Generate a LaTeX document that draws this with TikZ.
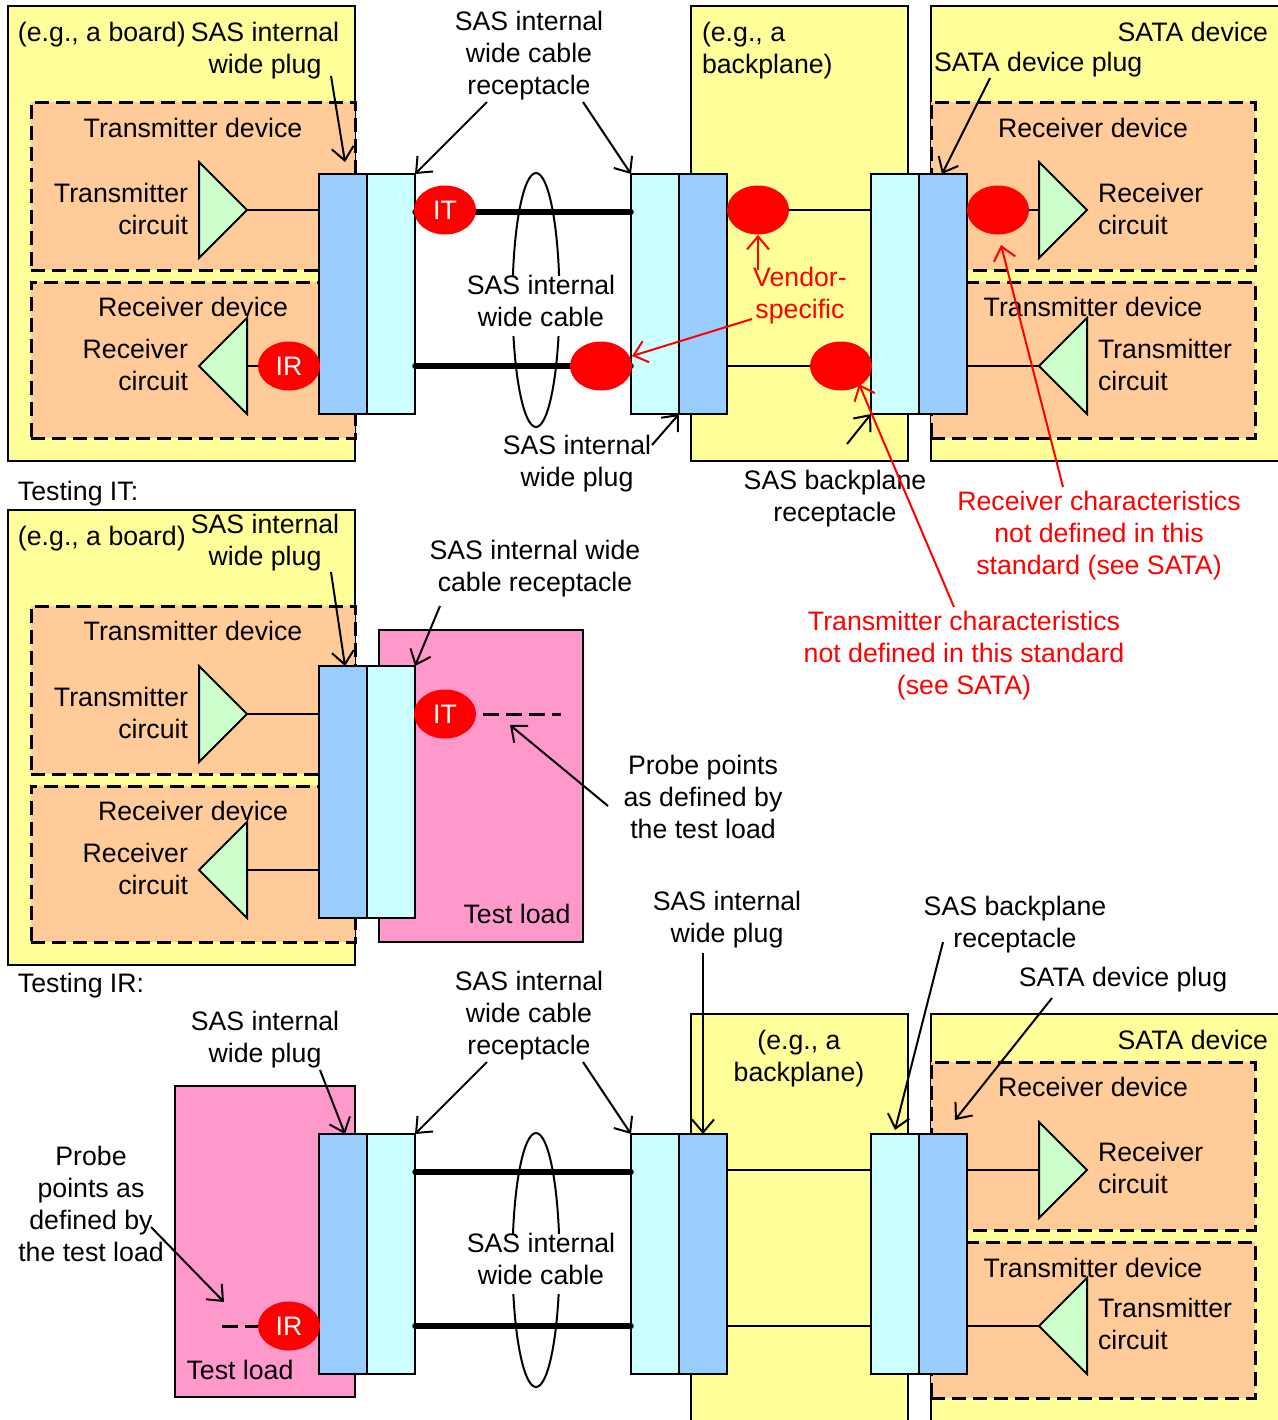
\documentclass[tikz,border=0pt]{standalone}
\usepackage{fontspec}
\setmainfont{Liberation Sans}
\usetikzlibrary{arrows.meta,fit,shapes.geometric}
\definecolor{cyel}{HTML}{FFFF99}
\definecolor{corg}{HTML}{FFCC99}
\definecolor{cblu}{HTML}{99CCFF}
\definecolor{ccya}{HTML}{CCFFFF}
\definecolor{cgrn}{HTML}{CCFFCC}
\definecolor{cpnk}{HTML}{FF99CC}
\tikzset{
  x=0.5pt,y=-0.5pt,
  panel/.style={inner sep=0pt,outer sep=0pt,line width=1pt,draw=black},
  yellowbox/.style={panel,fill=cyel},
  yellowfill/.style={panel,fill=cyel,draw=none},
  pinkbox/.style={panel,fill=cpnk},
  dashbox/.style={panel,fill=corg,line width=1.5pt,dash pattern=on 7pt off 3.5pt},
  plugbox/.style={panel,fill=cblu},
  recbox/.style={panel,fill=ccya},
  triangle/.style={draw=black,fill=cgrn,line width=1pt,line join=miter},
  wire/.style={draw=black,line width=1pt},
  cable/.style={draw=black,line width=2.75pt,line cap=round},
  probe/.style={draw=black,line width=1.5pt,dash pattern=on 8pt off 3.5pt},
  loope/.style={ellipse,draw=black,line width=1pt,minimum width=23.5pt,minimum height=127pt,inner sep=0pt},
  redspot/.style={ellipse,fill=red,text=white,minimum width=31pt,minimum height=24.5pt,inner sep=0pt,font=\fontsize{13.35}{16}\selectfont},
  txt/.style={font=\fontsize{13.35}{16}\selectfont,inner sep=0pt,outer sep=0pt,yshift=-1.5pt,
    execute at begin node=\strut,execute at end node=\strut},
  lbl/.style={txt,align=center},
  lblL/.style={txt,align=left,anchor=west},
  lblR/.style={txt,align=right,anchor=east},
  ml/.style={yshift=-1pt},
  whiteback/.style={fill=white},
  redtxt/.style={text=red},
  callout/.style={draw=black,line width=1pt,-{Straight Barb[length=6.5pt,width=11pt,line width=1pt]}},
  redcall/.style={callout,draw=red,-{Straight Barb[length=6.5pt,width=11pt,line width=1pt,color=red]}},
}
\newcommand{\bx}[6]{\node[#1,fit={(#3,#4)(#5,#6)}] (#2) {};}
\newcommand{\trig}[4]{\draw[triangle] (#1) -- (#2) -- (#3) -- cycle;}
\begin{document}
\begin{tikzpicture}
\useasboundingbox (0,0) rectangle (1278,1420);
% ---------- panel 1 ----------
\bx{yellowbox}{boardA}{8}{6}{355}{461}
\bx{yellowbox}{bpA}{691}{6}{908}{461}
\bx{yellowfill}{sataA}{931}{6}{1278}{461}
\draw[wire] (1278,6) -- (931,6) -- (931,461) -- (1278,461);
\bx{dashbox}{txA}{31}{102}{355}{270}
\bx{dashbox}{rxA}{31}{282}{355}{438}
\bx{dashbox}{srxA}{931}{102}{1255}{270}
\bx{dashbox}{stxA}{931}{282}{1255}{438}
% wires
\coordinate (a1) at (247,210);
\coordinate (a2) at (247,366);
\coordinate (a3) at (1039,210);
\coordinate (a4) at (1039,366);
\bx{plugbox}{pA}{319}{174}{367}{414}
\bx{recbox}{rA}{367}{174}{415}{414}
\bx{recbox}{rB}{631}{174}{679}{414}
\bx{plugbox}{pB}{679}{174}{727}{414}
\bx{recbox}{rC}{871}{174}{919}{414}
\bx{plugbox}{pC}{919}{174}{967}{414}
\draw[wire] (a1) -- (pA.west |- a1);
\draw[wire] (a2) -- (pA.west |- a2);
\draw[wire] (pB.east |- 0,210) -- (rC.west |- 0,210);
\draw[wire] (pB.east |- 0,366) -- (rC.west |- 0,366);
\draw[wire] (pC.east |- a3) -- (a3);
\draw[wire] (pC.east |- a4) -- (a4);
\draw[cable] (rA.east |- 0,212) -- (rB.west |- 0,212);
\draw[cable] (rA.east |- 0,366) -- (rB.west |- 0,366);
\trig{199,162}{247,210}{199,258}{}
\trig{247,318}{199,366}{247,414}{}
\trig{1039,162}{1087,210}{1039,258}{}
\trig{1087,318}{1039,366}{1087,414}{}
\node[loope] (loopA) at (536,300) {};
\node[redspot] (itA) at (445,210) {IT};
\node[redspot] (irA) at (289,366) {IR};
\node[redspot] (v1) at (758,210) {};
\node[redspot] (v2) at (998,210) {};
\node[redspot] (v3) at (601,366) {};
\node[redspot] (v4) at (841,366) {};
\node[lblL] (t1) at (18,32) {(e.g., a board)};
\node[lbl,ml] (t2) at (265,48) {SAS internal\\wide plug};
\node[lbl,ml] (t3) at (529,53) {SAS internal\\wide cable\\receptacle};
\node[lblL,ml] (t4) at (702,48) {(e.g., a\\backplane)};
\node[lblR] (t5) at (1268,32) {SATA device};
\node[lblL] (t6) at (934,62) {SATA device plug};
\node[lbl] (t7) at (193,128) {Transmitter device};
\node[lblR,ml] (t8) at (188,209) {Transmitter\\circuit};
\node[lbl] (t9) at (193,307) {Receiver device};
\node[lblR,ml] (t10) at (188,365) {Receiver\\circuit};
\node[lbl] (t11) at (1093,128) {Receiver device};
\node[lblL,ml] (t12) at (1098,209) {Receiver\\circuit};
\node[lbl] (t13) at (1093,307) {Transmitter device};
\node[lblL,ml] (t14) at (1098,365) {Transmitter\\circuit};
\node[lbl,redtxt,ml] (t15) at (800,293) {Vendor-\\specific};
\node[lbl,whiteback] (t16) at (541,303) {SAS internal\\wide cable};
\node[lbl,ml] (t17) at (577,461) {SAS internal\\wide plug};
\node[lbl,ml] (t18) at (835,496) {SAS backplane\\receptacle};
\node[lbl,redtxt,ml] (t19) at (1099,533) {Receiver characteristics\\not defined in this\\standard (see SATA)};
\node[lbl,redtxt,ml] (t20) at (964,653) {Transmitter characteristics\\not defined in this standard\\(see SATA)};
\coordinate (s1) at (331,76); \coordinate (e1) at (345,162);
\coordinate (s2) at (487,102);
\coordinate (s3) at (583,102);
\coordinate (s4) at (990,78); \coordinate (e4) at (942,174);
\coordinate (s5) at (758,270);
\coordinate (s6) at (752,319); \coordinate (e6) at (632,356);
\coordinate (s7) at (652,445);
\coordinate (s8) at (847,444);
\coordinate (s9) at (1063,487); \coordinate (e9) at (1001,245);
\coordinate (s10) at (954,607); \coordinate (e10) at (859,384);
\draw[callout] (s1) -- (e1);
\draw[callout] (s2) -- (rA.north east);
\draw[callout] (s3) -- (rB.north west);
\draw[callout] (s4) -- (e4);
\draw[redcall] (s5) -- (v1.south);
\draw[redcall] (s6) -- (e6);
\draw[callout] (s7) -- (pB.south west);
\draw[callout] (s8) -- (rC.south west);
\draw[redcall] (s9) -- (e9);
\draw[redcall] (s10) -- (e10);
% ---------- panel 2 ----------
\node[lblL] (t21) at (18,491) {Testing IT:};
\bx{yellowbox}{boardB}{8}{510}{355}{965}
\bx{dashbox}{txB}{31}{606}{355}{774}
\bx{dashbox}{rxB}{31}{786}{355}{942}
\bx{pinkbox}{loadB}{379}{630}{583}{942}
\bx{plugbox}{pD}{319}{666}{367}{918}
\bx{recbox}{rD}{367}{666}{415}{918}
\coordinate (b1) at (247,714);
\coordinate (b2) at (247,870);
\draw[wire] (b1) -- (pD.west |- b1);
\draw[wire] (b2) -- (pD.west |- b2);
\trig{199,666}{247,714}{199,762}{}
\trig{247,822}{199,870}{247,918}{}
\node[redspot] (itB) at (445,714) {IT};
\coordinate (pr1) at (561,714);
\draw[probe,dash phase=8pt] (itB.east) -- (pr1);
\node[lblL] (t22) at (18,536) {(e.g., a board)};
\node[lbl,ml] (t23) at (265,540) {SAS internal\\wide plug};
\node[lbl] (t24) at (193,631) {Transmitter device};
\node[lblR,ml] (t25) at (188,713) {Transmitter\\circuit};
\node[lbl] (t26) at (193,811) {Receiver device};
\node[lblR,ml] (t27) at (188,869) {Receiver\\circuit};
\node[lbl] (t28) at (517,914) {Test load};
\node[lbl,ml] (t29) at (535,566) {SAS internal wide\\cable receptacle};
\node[lbl,ml] (t30) at (703,797) {Probe points\\as defined by\\the test load};
\coordinate (s11) at (331,572); \coordinate (e11) at (345,666);
\coordinate (s12) at (440,606);
\coordinate (s13) at (608,806); \coordinate (e13) at (510,725);
\draw[callout] (s11) -- (e11);
\draw[callout] (s12) -- (rD.north east);
\draw[callout] (s13) -- (e13);
% ---------- panel 3 ----------
\node[lblL] (t31) at (18,983) {Testing IR:};
\bx{pinkbox}{loadC}{175}{1086}{355}{1397}
\bx{yellowfill}{bpC}{691}{1014}{908}{1420}
\draw[wire] (691,1420) -- (691,1014) -- (908,1014) -- (908,1420);
\bx{yellowfill}{sataC}{931}{1014}{1278}{1420}
\draw[wire] (1278,1014) -- (931,1014) -- (931,1420);
\bx{dashbox}{srxC}{931}{1062}{1255}{1230}
\bx{dashbox}{stxC}{931}{1242}{1255}{1398}
\bx{plugbox}{pE}{319}{1134}{367}{1374}
\bx{recbox}{rE}{367}{1134}{415}{1374}
\bx{recbox}{rF}{631}{1134}{679}{1374}
\bx{plugbox}{pF}{679}{1134}{727}{1374}
\bx{recbox}{rG}{871}{1134}{919}{1374}
\bx{plugbox}{pG}{919}{1134}{967}{1374}
\coordinate (c3) at (1039,1170);
\coordinate (c4) at (1039,1326);
\draw[wire] (pF.east |- 0,1170) -- (rG.west |- 0,1170);
\draw[wire] (pF.east |- 0,1326) -- (rG.west |- 0,1326);
\draw[wire] (pG.east |- c3) -- (c3);
\draw[wire] (pG.east |- c4) -- (c4);
\draw[cable] (rE.east |- 0,1172) -- (rF.west |- 0,1172);
\draw[cable] (rE.east |- 0,1326) -- (rF.west |- 0,1326);
\trig{1039,1122}{1087,1170}{1039,1218}{}
\trig{1087,1278}{1039,1326}{1087,1374}{}
\node[loope] (loopC) at (536,1260) {};
\node[redspot] (irC) at (289,1326) {IR};
\coordinate (pr2) at (222,1326);
\draw[probe] (pr2) -- (irC.west);
\node[lbl,ml] (t32) at (265,1037) {SAS internal\\wide plug};
\node[lbl,ml] (t33) at (529,1013) {SAS internal\\wide cable\\receptacle};
\node[lbl,ml] (t34) at (727,917) {SAS internal\\wide plug};
\node[lbl,ml] (t35) at (1015,922) {SAS backplane\\receptacle};
\node[lbl] (t36) at (1123,977) {SATA device plug};
\node[lbl,ml] (t37) at (799,1056) {(e.g., a\\backplane)};
\node[lblR] (t38) at (1268,1040) {SATA device};
\node[lbl] (t39) at (1093,1087) {Receiver device};
\node[lblL,ml] (t40) at (1098,1168) {Receiver\\circuit};
\node[lbl] (t41) at (1093,1268) {Transmitter device};
\node[lblL,ml] (t42) at (1098,1324) {Transmitter\\circuit};
\node[lbl,whiteback,ml] (t43) at (541,1259) {SAS internal\\wide cable};
\node[lbl] (t44) at (240,1370) {Test load};
\node[lbl,ml] (t45) at (91,1204) {Probe\\points as\\defined by\\the test load};
\coordinate (s14) at (320,1070); \coordinate (e14) at (345,1134);
\coordinate (s15) at (487,1062);
\coordinate (s16) at (583,1062);
\coordinate (s17) at (703,953); \coordinate (e17) at (703,1134);
\coordinate (s18) at (943,942); \coordinate (e18) at (895,1130);
\coordinate (s19) at (1052,998); \coordinate (e19) at (955,1120);
\coordinate (s20) at (151,1227); \coordinate (e20) at (224,1302);
\draw[callout] (s14) -- (e14);
\draw[callout] (s15) -- (rE.north east);
\draw[callout] (s16) -- (rF.north west);
\draw[callout] (s17) -- (e17);
\draw[callout] (s18) -- (e18);
\draw[callout] (s19) -- (e19);
\draw[callout] (s20) -- (e20);
\end{tikzpicture}
\end{document}
